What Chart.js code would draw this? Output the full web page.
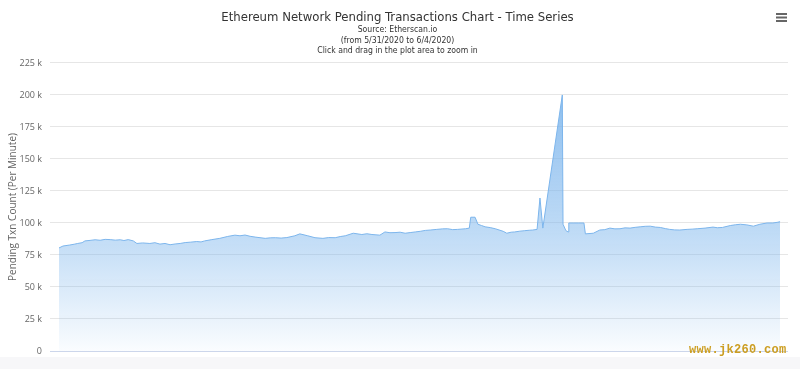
<!DOCTYPE html>
<html>
<head>
<meta charset="utf-8">
<script src="https://cdn.jsdelivr.net/npm/chart.js@4"></script>
<style>
    html, body { margin: 0; padding: 0; background: #fff; }
    #wrap { position: relative; width: 800px; height: 369px; }
    #band { position: absolute; left: 0; top: 357px; width: 800px; height: 12px; background: #f7f7f9; }
    #chart { position: absolute; left: 0; top: 0; }
    #mark {
        position: absolute; left: 689px; top: 343px;
        font: bold 12px "Liberation Mono", "DejaVu Sans Mono", monospace;
        color: #cc9e22; letter-spacing: 0.3px;
    }
</style>
</head>
<body>
<div id="wrap">
    <div id="band"></div>
    <canvas id="chart" width="800" height="369"></canvas>
    <div id="mark">www.jk260.com</div>
</div>
<script>
// horas desde 5/31 00:00 (eixo x oculto)
const hours = [
    0, 0.55, 1.5, 2.1, 2.6, 3.2, 3.6, 4.3, 5.0, 5.7, 6.4, 7.1, 7.8, 8.5, 9.0, 9.6, 10.3, 10.8,
    11.6, 12.6, 13.3, 14.0, 14.7, 15.4, 16.1, 16.8, 17.5, 18.2, 19.1, 19.7, 20.2, 21.2, 22.3,
    23.4, 24.4, 25.1, 25.8, 26.5, 27.2, 28.6, 29.3, 30.0, 30.8, 31.6, 32.7, 33.4, 34.5, 35.5,
    36.6, 37.4, 38.3, 39.0, 39.7, 40.8, 42.0, 42.7, 43.4, 44.5, 45.2, 45.9, 46.6, 47.3, 48.0,
    48.7, 49.4, 50.1, 50.8, 51.5, 52.4, 53.2, 53.9, 54.6, 55.3, 56.4, 56.9, 57.1, 57.7, 58.1,
    58.6, 59.1, 59.8, 60.5, 61.6, 62.1, 62.7, 63.2, 63.9, 64.6, 65.2, 65.7, 66.3, 66.7, 67.1,
    69.8, 69.9, 70.3, 70.6, 70.7, 71.3, 72.0, 72.8, 73.0, 74.1, 75.0, 75.7, 76.4, 77.1, 77.8,
    78.5, 79.2, 79.9, 80.6, 81.3, 82.0, 82.7, 83.4, 84.1, 84.7, 85.4, 86.1, 87.1, 87.8, 88.5,
    89.6, 90.7, 91.3, 92.0, 93.1, 93.8, 94.5, 95.4, 96.3, 97.2, 98.2, 99.0, 99.6, 100
];
// Pending Txn Count (k)
const pending = [
    80.5, 82, 82.8, 83.4, 84, 84.6, 86, 86.4, 86.9, 86.5, 87.2, 87, 86.6, 86.9, 86.3, 87, 86, 84,
    84.4, 84, 84.6, 83.5, 84, 83, 83.6, 84, 84.7, 85, 85.5, 85.2, 86, 87, 88,
    89.5, 90.5, 90, 90.6, 89.6, 89, 88, 88.4, 88.5, 88.2, 88.6, 90, 91.5, 90, 88.5,
    88, 88.6, 88.5, 89.4, 90, 92, 91, 91.6, 91, 90.5, 93, 92.4, 92.5, 92.8, 92,
    92.5, 93, 93.5, 94.2, 94.5, 95, 95.4, 95.5, 94.8, 95, 95.5, 96, 104.5, 104.5, 99,
    98, 97, 96.4, 95.5, 93.5, 92, 92.8, 93, 93.6, 94, 94.3, 94.5, 95, 119.5, 96,
    200, 99, 94, 93, 100, 100, 100, 100, 91.5, 92, 94.5, 94.8, 96, 95.4, 95.5,
    96.2, 96, 96.6, 97, 97.4, 97.5, 96.8, 96.5, 95.6, 95, 94.6, 94.5, 95, 95.2, 95.5,
    96, 96.8, 96.3, 96.5, 98, 98.6, 99, 98.5, 97.5, 99, 100, 100, 100.5, 101
];
const yTicks = [0, 25, 50, 75, 100, 125, 150, 175, 200, 225];

const narrow = '"Liberation Sans Narrow", "DejaVu Sans Condensed", sans-serif';

// ícone de menu (decorativo)
const menuIcon = {
    id: 'menuIcon',
    afterDraw(chart) {
        const c = chart.ctx;
        c.save();
        c.fillStyle = '#666';
        [13, 16.5, 20].forEach(y => c.fillRect(776, y, 11, 2));
        c.restore();
    }
};

const ctx = document.getElementById('chart').getContext('2d');
new Chart(ctx, {
    type: 'line',
    data: {
        datasets: [{
            data: hours.map((h, i) => ({ x: h, y: pending[i] })),
            borderColor: '#7cb5ec',
            borderWidth: 1,
            pointRadius: 0,
            tension: 0,
            fill: 'origin',
            backgroundColor: (c) => {
                const area = c.chart.chartArea;
                if (!area) return 'rgba(124,181,236,0.4)';
                const g = c.chart.ctx.createLinearGradient(0, area.top, 0, area.bottom);
                g.addColorStop(0, 'rgba(124,181,236,0.95)');
                g.addColorStop(0.6, 'rgba(124,181,236,0.48)');
                g.addColorStop(1, 'rgba(124,181,236,0.04)');
                return g;
            }
        }]
    },
    options: {
        responsive: false,
        animation: false,
        layout: { padding: { left: 7, right: 12, bottom: 18 } },
        plugins: {
            legend: { display: false },
            tooltip: { enabled: false },
            title: {
                display: true,
                text: 'Ethereum Network Pending Transactions Chart - Time Series',
                color: '#333',
                font: { family: narrow, size: 13, weight: 'normal', lineHeight: 1 },
                padding: { top: 11, bottom: 0 }
            },
            subtitle: {
                display: true,
                text: ['Source: Etherscan.io', '(from 5/31/2020 to 6/4/2020)', 'Click and drag in the plot area to zoom in'],
                color: '#333',
                font: { family: narrow, size: 8.6, lineHeight: 1.2 },
                padding: { top: 1, bottom: 7 }
            }
        },
        scales: {
            x: {
                type: 'linear',
                display: false,
                min: -1.25,
                max: 101.1
            },
            y: {
                min: 0,
                max: 225,
                afterFit: (s) => { s.width = 43; },
                afterBuildTicks: (s) => { s.ticks = yTicks.map(v => ({ value: v })); },
                title: {
                    display: true,
                    text: 'Pending Txn Count (Per Minute)',
                    color: '#666',
                    font: { family: '"Open Sans", sans-serif', size: 10 },
                    padding: { top: 0, bottom: 2 }
                },
                ticks: {
                    color: '#666',
                    font: { family: '"Open Sans", sans-serif', size: 9 },
                    padding: 8,
                    callback: (v) => v === 0 ? '0' : v + ' k'
                },
                grid: {
                    color: (c) => c.tick.value === 0 ? '#ccd6eb' : '#e6e6e6',
                    lineWidth: 1,
                    drawTicks: false
                },
                border: { display: false }
            }
        }
    },
    plugins: [menuIcon]
});
</script>
</body>
</html>
